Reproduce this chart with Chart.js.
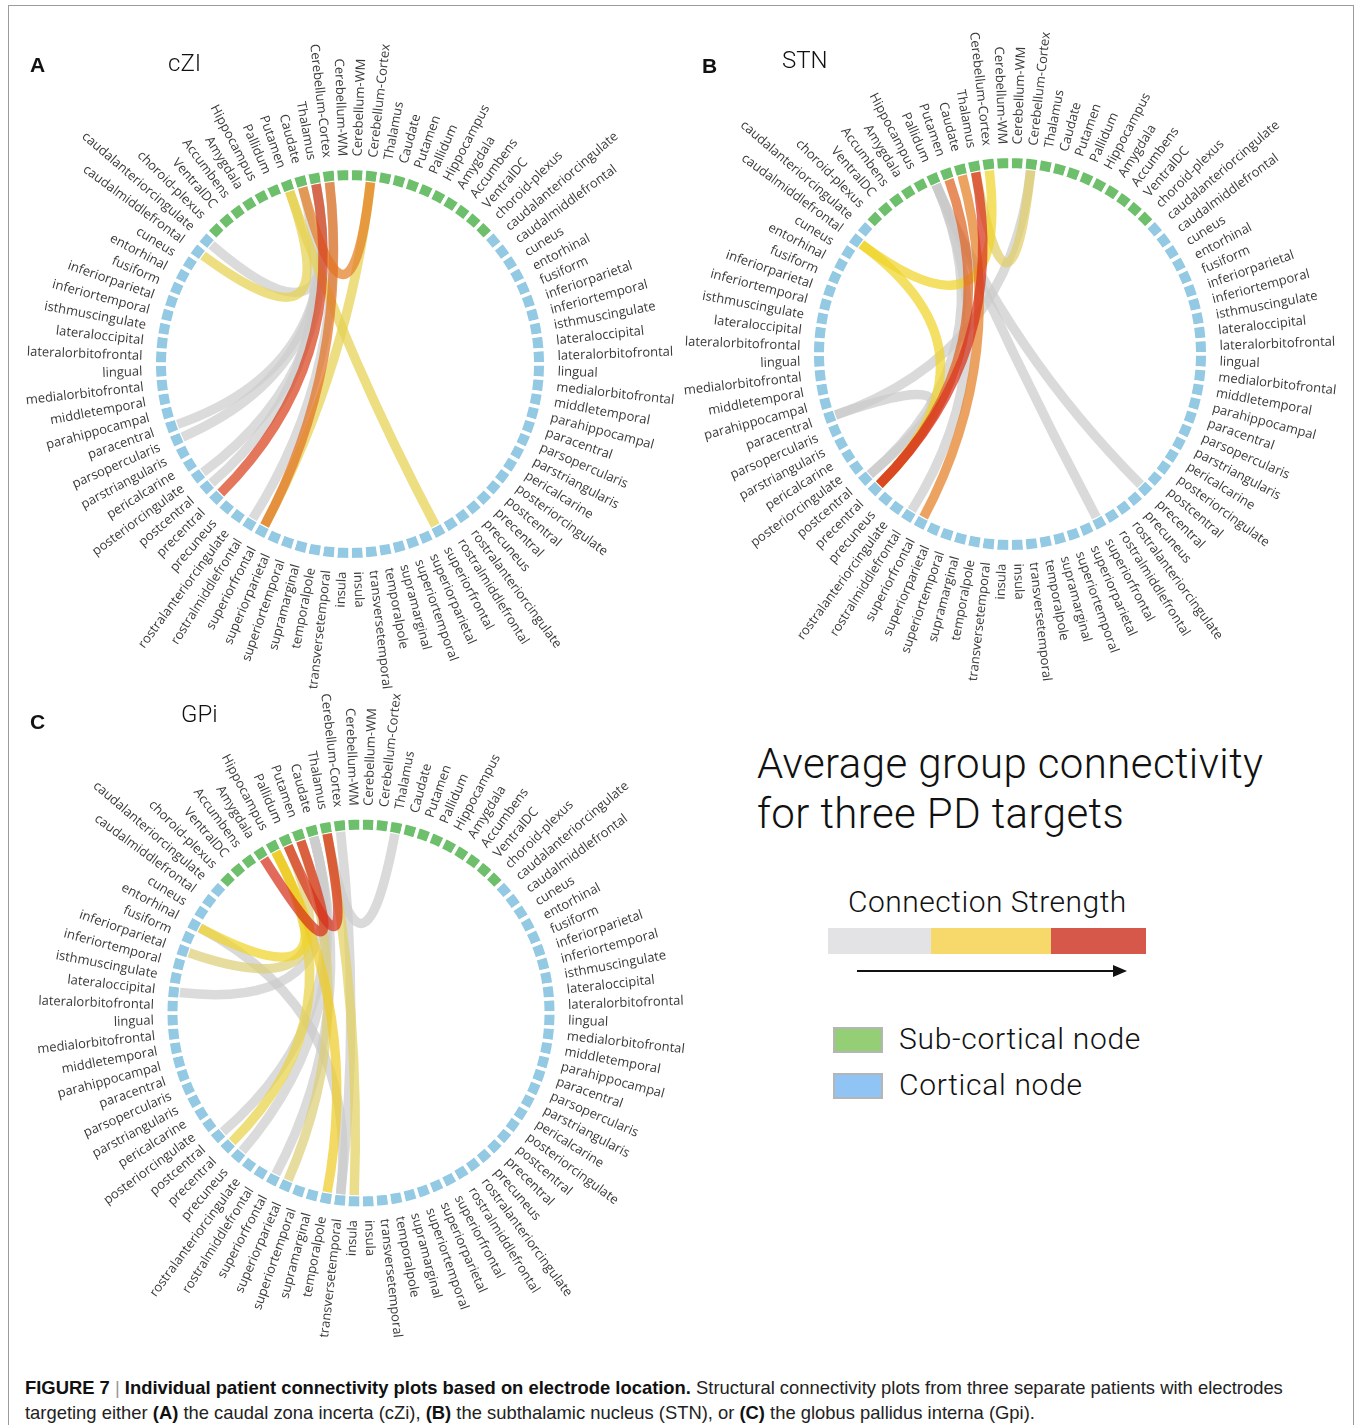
<!DOCTYPE html>
<html>
<head>
<meta charset="utf-8">
<script src="https://cdn.jsdelivr.net/npm/chart.js@4.4.1/dist/chart.umd.min.js"></script>
<style>
  body { margin: 0; width: 1356px; height: 1425px; background: #fff; position: relative; overflow: hidden; }
  .abs { position: absolute; white-space: nowrap; }
  #frame { left: 8px; top: 5px; width: 1344px; height: 1440px; border: 1px solid #9c9c9c; border-bottom: none; }
  .letter { font: bold 21px "Liberation Sans", Arial, sans-serif; line-height: 21px; color: #111; }
  .ptitle { font: 300 24px Roboto, "Liberation Sans", sans-serif; line-height: 24px; color: #111; }
  .big { font: 300 42px Roboto, "Liberation Sans", sans-serif; line-height: 50px; letter-spacing: 0.4px; color: #111; }
  .leg { font: 300 30px Roboto, "Liberation Sans", sans-serif; line-height: 30px; color: #111; }
  .box { width: 46px; height: 22px; border: 2px solid #b5b5b5; }
  .wrap { position: absolute; width: 720px; height: 720px; }
  .caption { font: 18.4px "Liberation Sans Narrow", "Arial Narrow", sans-serif; line-height: 20px; color: #222; }
  .caption b { color: #111; }
  .bar { color: #999; font-weight: normal; }
</style>
</head>
<body>
<div id="frame" class="abs"></div>

<div class="wrap" style="left:-10px;top:4px"><canvas id="chart-czi" width="720" height="720"></canvas></div>
<div class="wrap" style="left:650px;top:-6px"><canvas id="chart-stn" width="720" height="720"></canvas></div>
<div class="wrap" style="left:1px;top:653px"><canvas id="chart-gpi" width="720" height="720"></canvas></div>

<div class="abs letter" style="left:30px;top:54px">A</div>
<div class="abs letter" style="left:702px;top:55px">B</div>
<div class="abs letter" style="left:30px;top:711px">C</div>
<div class="abs ptitle" style="left:168px;top:51px">cZI</div>
<div class="abs ptitle" style="left:782px;top:48px">STN</div>
<div class="abs ptitle" style="left:181px;top:702px">GPi</div>

<div class="abs big" style="left:757px;top:739px">Average group connectivity<br>for three PD targets</div>

<div class="abs leg" style="left:848px;top:887px;letter-spacing:0.5px">Connection Strength</div>
<div class="abs" style="left:828px;top:928px;width:103px;height:26px;background:#e3e3e5"></div>
<div class="abs" style="left:931px;top:928px;width:120px;height:26px;background:#f6d96a"></div>
<div class="abs" style="left:1051px;top:928px;width:95px;height:26px;background:#d5584b"></div>
<div class="abs" style="left:857px;top:970px;width:258px;height:2px;background:#111"></div>
<div class="abs" style="left:1113px;top:965px;width:0;height:0;border-left:14px solid #111;border-top:6px solid transparent;border-bottom:6px solid transparent"></div>

<div class="abs box" style="left:833px;top:1027px;background:#95cf75"></div>
<div class="abs leg" style="left:899px;top:1024px;letter-spacing:0.7px">Sub-cortical node</div>
<div class="abs box" style="left:833px;top:1073px;background:#8fc4f5"></div>
<div class="abs leg" style="left:899px;top:1070px;letter-spacing:0.7px">Cortical node</div>

<div class="abs caption" style="left:25px;top:1378px"><b>FIGURE 7 <span class="bar">|</span> Individual patient connectivity plots based on electrode location.</b> Structural connectivity plots from three separate patients with electrodes</div>
<div class="abs caption" style="left:25px;top:1403px">targeting either <b>(A)</b> the caudal zona incerta (cZi), <b>(B)</b> the subthalamic nucleus (STN), or <b>(C)</b> the globus pallidus interna (Gpi).</div>

<script>
// nodes of one hemisphere, from the top of the ring down to the bottom
const subcorticalNodes = ["Cerebellum-WM", "Cerebellum-Cortex", "Thalamus", "Caudate", "Putamen",
  "Pallidum", "Hippocampus", "Amygdala", "Accumbens", "VentralDC", "choroid-plexus"];
const corticalNodes = ["caudalanteriorcingulate", "caudalmiddlefrontal", "cuneus", "entorhinal",
  "fusiform", "inferiorparietal", "inferiortemporal", "isthmuscingulate", "lateraloccipital",
  "lateralorbitofrontal", "lingual", "medialorbitofrontal", "middletemporal", "parahippocampal",
  "paracentral", "parsopercularis", "parstriangularis", "pericalcarine", "posteriorcingulate",
  "postcentral", "precentral", "precuneus", "rostralanteriorcingulate", "rostralmiddlefrontal",
  "superiorfrontal", "superiorparietal", "superiortemporal", "supramarginal", "temporalpole",
  "transversetemporal", "insula"];

// [node, node, connection strength 0..1]
const cziLinks = [
  ["L Thalamus", "L caudalanteriorcingulate", 0.1],
  ["L Putamen", "L caudalmiddlefrontal", 0.45],
  ["L Thalamus", "L paracentral", 0.12],
  ["L Thalamus", "L parsopercularis", 0.12],
  ["L Thalamus", "L posteriorcingulate", 0.12],
  ["L Caudate", "L postcentral", 0.12],
  ["L Thalamus", "L precentral", 0.9],
  ["L Cerebellum-Cortex", "L rostralmiddlefrontal", 0.12],
  ["R Cerebellum-Cortex", "L superiorfrontal", 0.45],
  ["L Cerebellum-Cortex", "L superiorfrontal", 0.75],
  ["L Putamen", "R superiorfrontal", 0.45],
  ["L Caudate", "R Cerebellum-Cortex", 0.72]
];
const stnLinks = [
  ["L Pallidum", "R precentral", 0.15],
  ["L Pallidum", "R superiorfrontal", 0.15],
  ["R Cerebellum-Cortex", "L paracentral", 0.15],
  ["L paracentral", "L postcentral", 0.22],
  ["L Pallidum", "L postcentral", 0.22],
  ["L Pallidum", "L rostralmiddlefrontal", 0.15],
  ["L caudalmiddlefrontal", "L precentral", 0.5],
  ["L caudalmiddlefrontal", "L Cerebellum-Cortex", 0.5],
  ["R Cerebellum-Cortex", "L Thalamus", 0.42],
  ["L Caudate", "L superiorfrontal", 0.72],
  ["L Putamen", "L precentral", 0.8],
  ["L Thalamus", "L precentral", 0.95]
];
const gpiLinks = [
  ["R Thalamus", "L Thalamus", 0.15],
  ["L Cerebellum-Cortex", "L transversetemporal", 0.15],
  ["L entorhinal", "L transversetemporal", 0.18],
  ["L Caudate", "L lateraloccipital", 0.12],
  ["L Caudate", "L postcentral", 0.12],
  ["L Caudate", "L precuneus", 0.12],
  ["L Caudate", "L superiorfrontal", 0.12],
  ["L Pallidum", "L inferiorparietal", 0.4],
  ["L Putamen", "L superiorparietal", 0.4],
  ["L Thalamus", "L insula", 0.43],
  ["L Hippocampus", "L precentral", 0.46],
  ["L Hippocampus", "L entorhinal", 0.5],
  ["L Hippocampus", "L temporalpole", 0.52],
  ["L Amygdala", "L Putamen", 0.95],
  ["L Pallidum", "L Thalamus", 0.95]
];

const hemisphereNodes = subcorticalNodes.concat(corticalNodes);
// clockwise from the top: right hemisphere going down, then left hemisphere coming back up
const ringNodes = hemisphereNodes.map(n => "R " + n)
  .concat(hemisphereNodes.slice().reverse().map(n => "L " + n));

const GREEN = "#6dbf6b";
const BLUE = "#93c9e3";
const BORDER = 3.5;

// grey for weak links, yellow for medium, red for strong
const colorStops = [
  [0, [208, 208, 208]],
  [0.3, [200, 200, 200]],
  [0.5, [240, 212, 40]],
  [0.75, [226, 114, 34]],
  [1, [212, 32, 26]]
];

function strengthColor(v, alpha) {
  for (let i = 1; i < colorStops.length; i++) {
    const [v1, c1] = colorStops[i];
    const [v0, c0] = colorStops[i - 1];
    if (v <= v1) {
      const t = (v - v0) / (v1 - v0);
      const c = c0.map((x, k) => Math.round(x + (c1[k] - x) * t));
      return `rgba(${c[0]},${c[1]},${c[2]},${alpha})`;
    }
  }
  return "rgba(212,32,26," + alpha + ")";
}

const ringLabels = {
  id: "ringLabels",
  afterDatasetsDraw(chart) {
    const ctx = chart.ctx;
    const arcs = chart.getDatasetMeta(0).data;
    ctx.save();
    ctx.font = "13px 'Open Sans'";
    ctx.fillStyle = "#3a3a3a";
    ctx.textBaseline = "middle";
    arcs.forEach((arc, i) => {
      const t = (arc.startAngle + arc.endAngle) / 2;
      const r = arc.outerRadius + 12;
      const name = ringNodes[i].slice(2);
      ctx.save();
      ctx.translate(arc.x, arc.y);
      if (Math.cos(t) >= 0) {
        ctx.rotate(t);
        ctx.textAlign = "left";
        ctx.fillText(name, r, 0);
      } else {
        ctx.rotate(t + Math.PI);
        ctx.textAlign = "right";
        ctx.fillText(name, -r, 0);
      }
      ctx.restore();
    });
    ctx.restore();
  }
};

function chordPlugin(links) {
  return {
    id: "chords",
    afterDatasetsDraw(chart) {
      const ctx = chart.ctx;
      const arcs = chart.getDatasetMeta(0).data;
      const sorted = links.slice().sort((a, b) => a[2] - b[2]);
      ctx.save();
      ctx.lineWidth = 9.5;
      ctx.lineCap = "butt";
      sorted.forEach(([from, to, w]) => {
        const a = arcs[ringNodes.indexOf(from)];
        const b = arcs[ringNodes.indexOf(to)];
        const r = a.innerRadius + 0.5;
        const ta = (a.startAngle + a.endAngle) / 2;
        const tb = (b.startAngle + b.endAngle) / 2;
        ctx.beginPath();
        ctx.moveTo(a.x + r * Math.cos(ta), a.y + r * Math.sin(ta));
        ctx.quadraticCurveTo(a.x, a.y, a.x + r * Math.cos(tb), a.y + r * Math.sin(tb));
        ctx.strokeStyle = strengthColor(w, 0.72);
        ctx.stroke();
      });
      ctx.restore();
    }
  };
}

function drawPanel(canvasId, links, ringRadius) {
  const outer = ringRadius + 5 + BORDER / 2;
  const inner = ringRadius - 5 - BORDER / 2;
  new Chart(document.getElementById(canvasId), {
    type: "doughnut",
    data: {
      labels: ringNodes,
      datasets: [{
        data: ringNodes.map(() => 1),
        backgroundColor: ringNodes.map(n => subcorticalNodes.includes(n.slice(2)) ? GREEN : BLUE),
        borderColor: "#ffffff",
        borderWidth: BORDER
      }]
    },
    options: {
      responsive: false,
      animation: false,
      events: [],
      radius: outer,
      cutout: (inner / outer * 100) + "%",
      layout: { padding: 0 },
      plugins: {
        legend: { display: false },
        tooltip: { enabled: false }
      }
    },
    plugins: [chordPlugin(links), ringLabels]
  });
}

function render() {
  drawPanel("chart-czi", cziLinks, 189);
  drawPanel("chart-stn", stnLinks, 191);
  drawPanel("chart-gpi", gpiLinks, 188.5);
}

document.fonts.load("13px 'Open Sans'").then(render, render);
</script>
</body>
</html>
